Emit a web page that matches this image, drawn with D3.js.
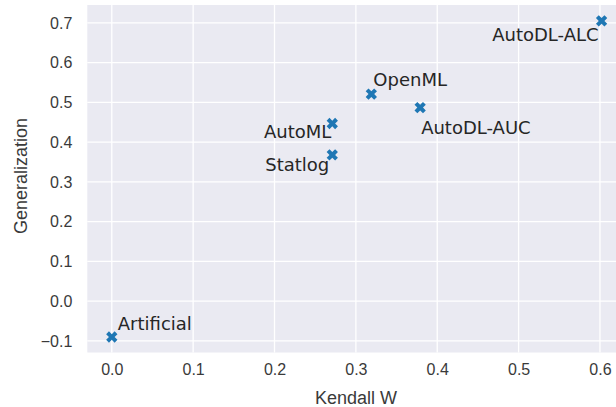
<!DOCTYPE html>
<html>
<head>
<meta charset="utf-8">
<script src="https://cdn.jsdelivr.net/npm/d3@7"></script>
<style>
  body { margin: 0; background: #fff; }
  svg { display: block; }
  .tick text { font-family: "Liberation Sans", Arial, sans-serif; font-size: 16px; fill: #3a3a3a; }
  .axis-label { font-family: "Liberation Sans", Arial, sans-serif; font-size: 18px; fill: #3a3a3a; }
  .note { font-family: "DejaVu Sans", sans-serif; font-size: 18px; fill: #262626; }
</style>
</head>
<body>
<div id="chart"></div>
<script>
// data
const names = ["Artificial", "AutoML", "Statlog", "OpenML", "AutoDL-AUC", "AutoDL-ALC"]
const kendallW = [0.0, 0.271, 0.271, 0.319, 0.379, 0.602]
const generalization = [-0.09, 0.447, 0.368, 0.521, 0.487, 0.705]
const xTicks = [0.0, 0.1, 0.2, 0.3, 0.4, 0.5, 0.6]
const yTicks = [-0.1, 0.0, 0.1, 0.2, 0.3, 0.4, 0.5, 0.6, 0.7]

// label placement (anchor, dx, dy) per point
const labelPos = [
  ["start", 6, -7],
  ["end", -1, 15],
  ["end", -3, 16],
  ["start", 2, -8],
  ["start", 1, 26],
  ["end", -3, 20]
]

const width = 616
const height = 407

const x = d3.scaleLinear().domain([-0.0301, 0.632]).range([87.3, 626])
const y = d3.scaleLinear().domain([-0.129, 0.745]).range([352.5, 5])

const svg = d3.select('#chart')
  .append('svg')
  .attr('width', width)
  .attr('height', height)

svg.append('rect')
  .attr('x', x.range()[0])
  .attr('y', y.range()[1])
  .attr('width', x.range()[1] - x.range()[0])
  .attr('height', y.range()[0] - y.range()[1])
  .attr('fill', '#EAEAF2')

// grid
svg.append('g')
  .selectAll('line')
  .data(xTicks)
  .join('line')
  .attr('x1', d => x(d)).attr('x2', d => x(d))
  .attr('y1', y.range()[1]).attr('y2', y.range()[0])
  .attr('stroke', '#fff')
  .attr('stroke-width', 1.3)

svg.append('g')
  .selectAll('line')
  .data(yTicks)
  .join('line')
  .attr('y1', d => y(d)).attr('y2', d => y(d))
  .attr('x1', x.range()[0]).attr('x2', x.range()[1])
  .attr('stroke', '#fff')
  .attr('stroke-width', 1.3)

// axes, labels only
const xAxis = d3.axisBottom(x).tickValues(xTicks).tickSize(0).tickPadding(11).tickFormat(d3.format('.1f'))
const yAxis = d3.axisLeft(y).tickValues(yTicks).tickSize(0).tickPadding(15)
  .tickFormat(d => d3.format('.1f')(d).replace('-', '\u2212'))

const xAxisG = svg.append('g')
  .attr('transform', `translate(0,${y.range()[0]})`)
  .call(xAxis)
xAxisG.select('.domain').remove()

const yAxisG = svg.append('g')
  .attr('transform', `translate(${x.range()[0]},0)`)
  .call(yAxis)
yAxisG.select('.domain').remove()

svg.append('text')
  .attr('class', 'axis-label')
  .attr('x', 356)
  .attr('y', 404)
  .attr('text-anchor', 'middle')
  .text('Kendall W')

svg.append('text')
  .attr('class', 'axis-label')
  .attr('transform', 'translate(27,176) rotate(-90)')
  .attr('text-anchor', 'middle')
  .text('Generalization')

// points
const points = names.map((n, i) => ({name: n, kw: kendallW[i], gen: generalization[i], pos: labelPos[i]}))

const marker = d3.symbol().type(d3.symbolCross).size(80)

svg.append('g')
  .selectAll('path')
  .data(points)
  .join('path')
  .attr('d', marker)
  .attr('transform', d => `translate(${x(d.kw)},${y(d.gen)}) rotate(45)`)
  .attr('fill', '#1f77b4')

svg.append('g')
  .selectAll('text')
  .data(points)
  .join('text')
  .attr('class', 'note')
  .attr('x', d => x(d.kw) + d.pos[1])
  .attr('y', d => y(d.gen) + d.pos[2])
  .attr('text-anchor', d => d.pos[0])
  .text(d => d.name)
</script>
</body>
</html>
